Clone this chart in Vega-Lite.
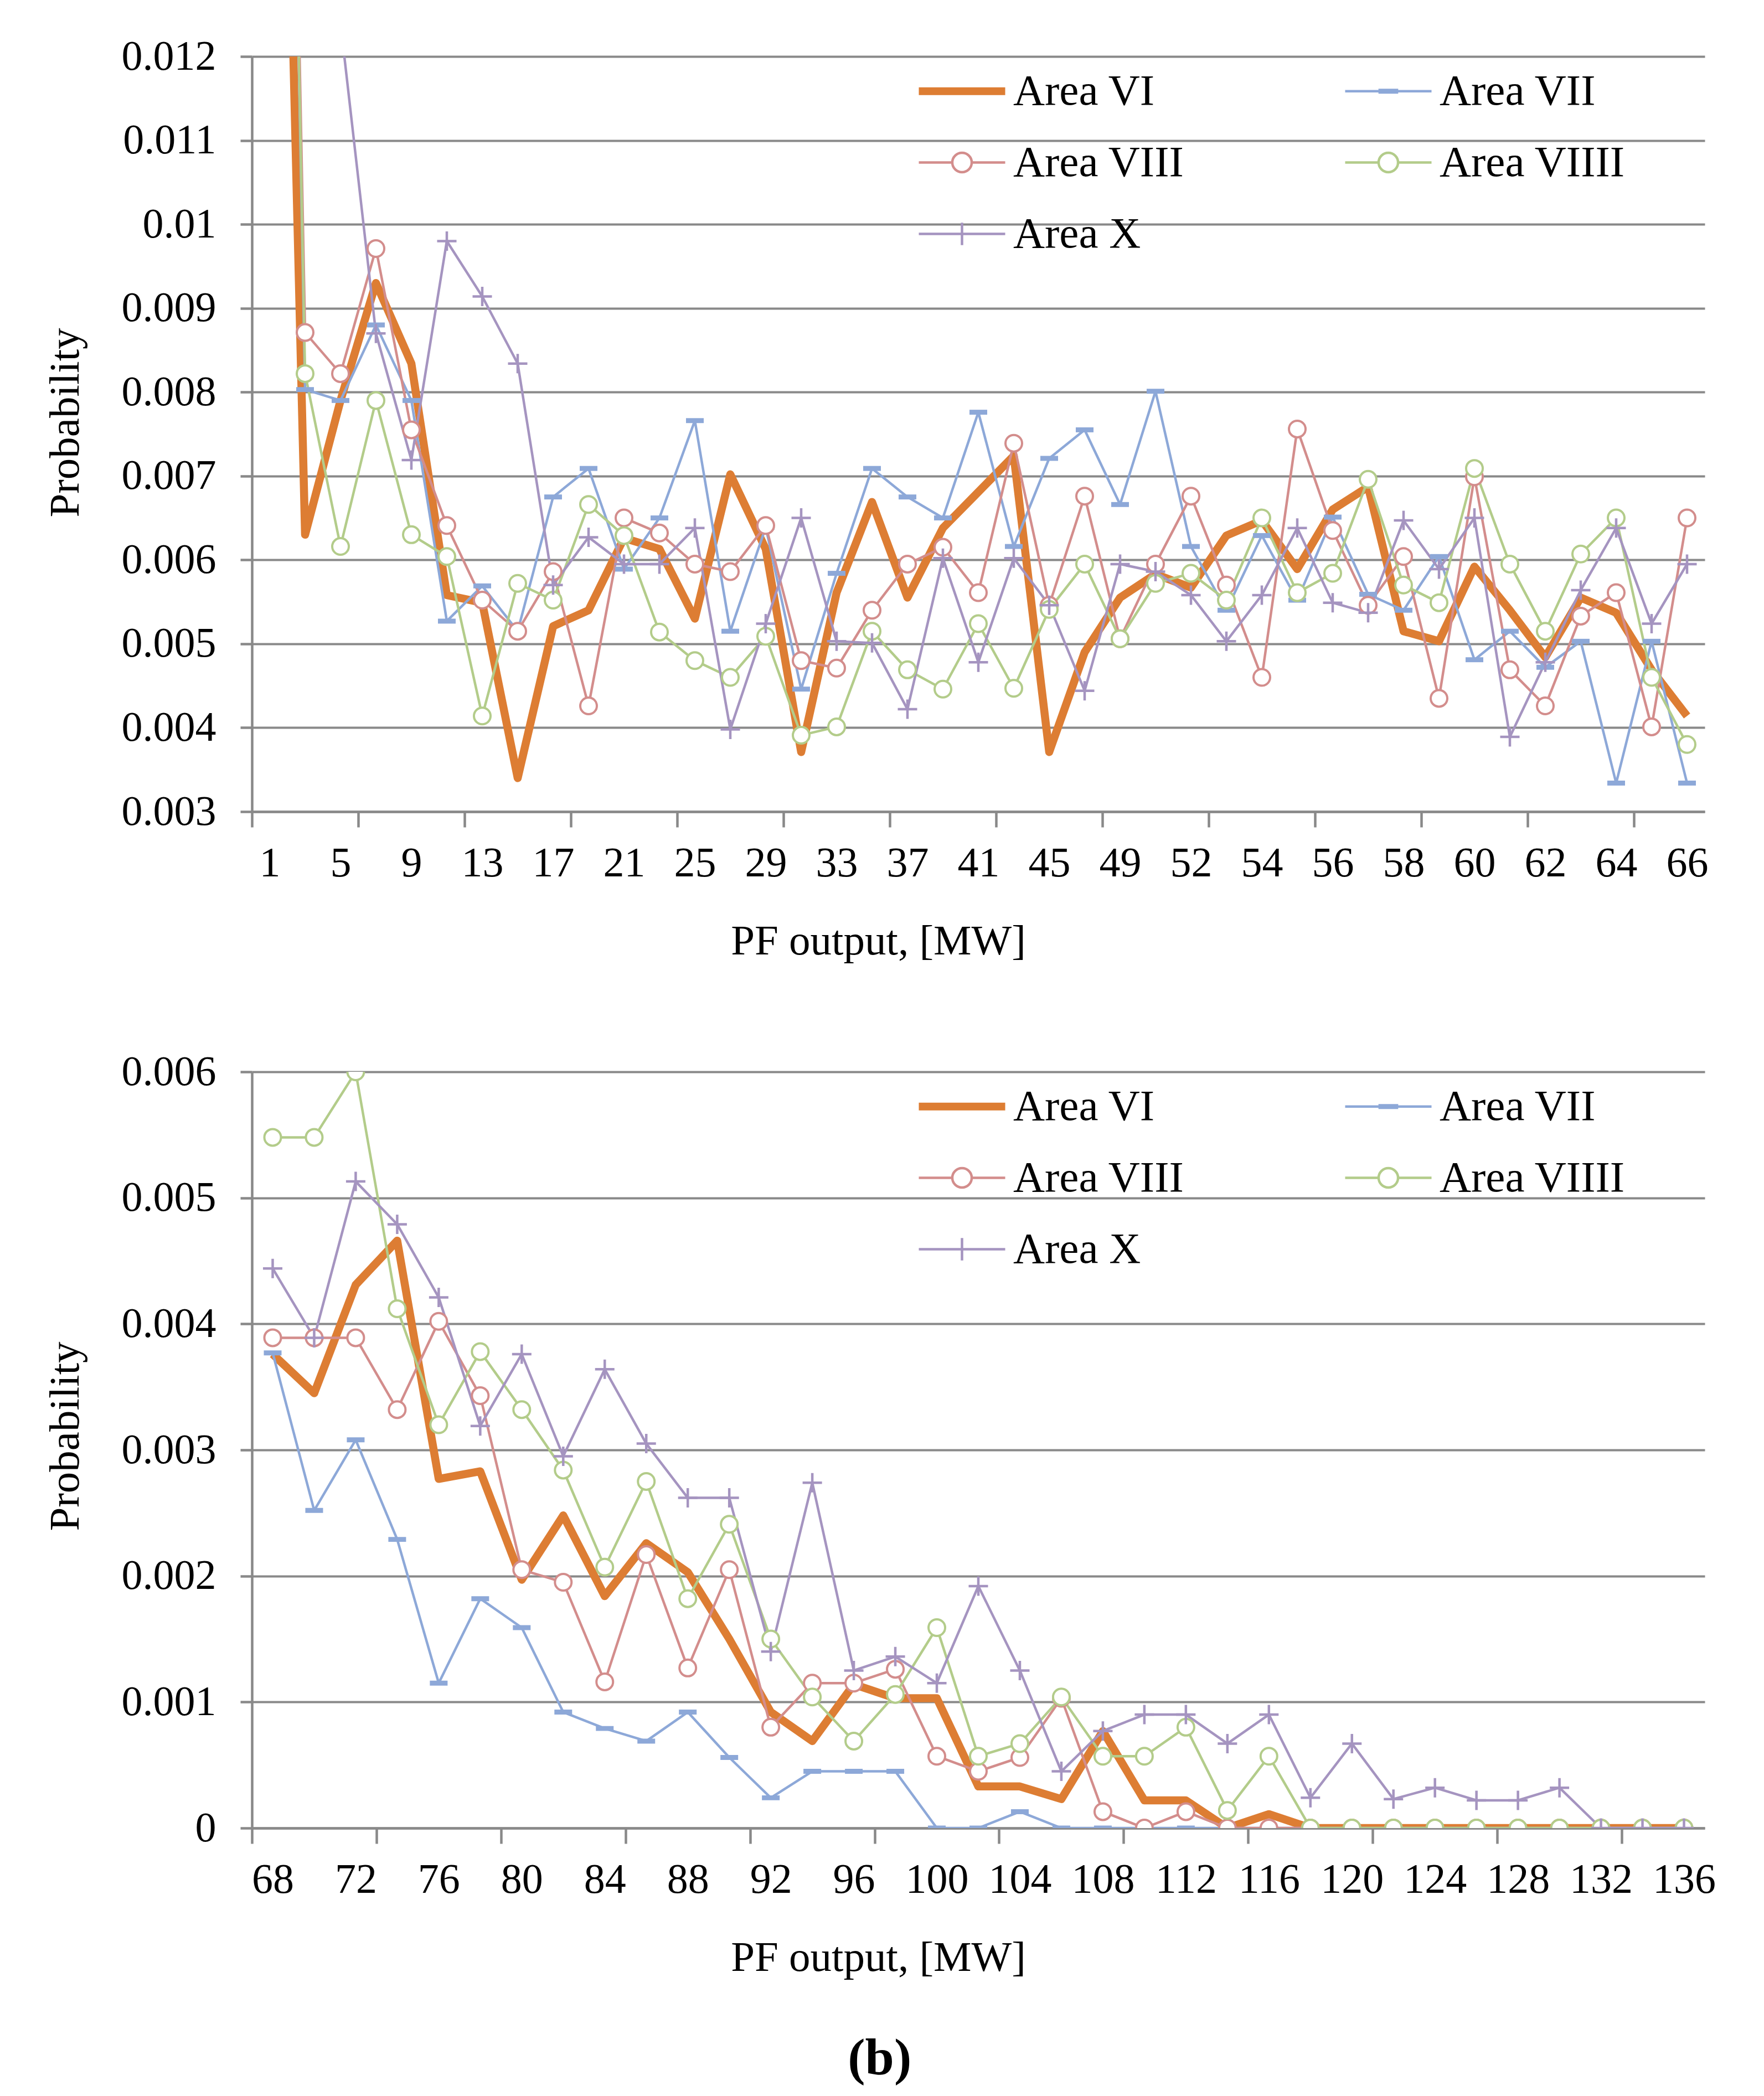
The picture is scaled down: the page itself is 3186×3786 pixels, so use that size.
{
"$schema": "https://vega.github.io/schema/vega-lite/v6.json",
"background": "white",
"padding": {"left": 79, "top": 64, "right": 100, "bottom": 20},
"title": {"text": "(b)", "orient": "bottom", "font": "Liberation Serif", "fontSize": 94, "fontWeight": "bold", "color": "black", "offset": 99, "anchor": "middle"},
"spacing": 160,
"resolve": {"scale": {"color": "independent", "shape": "independent", "x": "independent", "y": "independent"}, "legend": {"color": "independent", "shape": "independent"}},
"config": {
  "view": {"stroke": null},
  "axis": {"domainColor": "#898989", "domainWidth": 4.5, "tickColor": "#898989", "tickWidth": 4.5, "gridColor": "#898989", "gridWidth": 4, "labelFont": "Liberation Serif", "labelFontSize": 76, "labelColor": "black", "titleFont": "Liberation Serif", "titleFontSize": 77, "titleFontWeight": "normal", "titleColor": "black"},
  "legend": {"title": null, "orient": "none", "legendX": 1202, "legendY": 21, "direction": "horizontal", "columns": 2, "columnPadding": 280, "rowPadding": 47, "padding": 0, "labelFont": "Liberation Serif", "labelFontSize": 79, "labelColor": "black", "labelOffset": 90, "labelLimit": 1000, "symbolSize": 6084, "symbolStrokeWidth": 4.5}
},
"datasets": {
"top": [
{"x":"1","s":"Area VI","p":0.0236},{"x":"3","s":"Area VI","p":0.0063},{"x":"5","s":"Area VI","p":0.0079},{"x":"7","s":"Area VI","p":0.0093},{"x":"9","s":"Area VI","p":0.00834},{"x":"11","s":"Area VI","p":0.00558},{"x":"13","s":"Area VI","p":0.00549},{"x":"15","s":"Area VI","p":0.0034},{"x":"17","s":"Area VI","p":0.00521},{"x":"19","s":"Area VI","p":0.0054},{"x":"21","s":"Area VI","p":0.00626},{"x":"23","s":"Area VI","p":0.00613},{"x":"25","s":"Area VI","p":0.0053},{"x":"27","s":"Area VI","p":0.00702},{"x":"29","s":"Area VI","p":0.00613},{"x":"31","s":"Area VI","p":0.00371},{"x":"33","s":"Area VI","p":0.00561},{"x":"35","s":"Area VI","p":0.00669},{"x":"37","s":"Area VI","p":0.00555},{"x":"39","s":"Area VI","p":0.00638},{"x":"41","s":"Area VI","p":0.00681},{"x":"43","s":"Area VI","p":0.00724},{"x":"45","s":"Area VI","p":0.00371},{"x":"47","s":"Area VI","p":0.0049},{"x":"49","s":"Area VI","p":0.00555},{"x":"51","s":"Area VI","p":0.00583},{"x":"52","s":"Area VI","p":0.00567},{"x":"53","s":"Area VI","p":0.00629},{"x":"54","s":"Area VI","p":0.00647},{"x":"55","s":"Area VI","p":0.00589},{"x":"56","s":"Area VI","p":0.0066},{"x":"57","s":"Area VI","p":0.00687},{"x":"58","s":"Area VI","p":0.00515},{"x":"59","s":"Area VI","p":0.00503},{"x":"60","s":"Area VI","p":0.00592},{"x":"61","s":"Area VI","p":0.0054},{"x":"62","s":"Area VI","p":0.00484},{"x":"63","s":"Area VI","p":0.00555},{"x":"64","s":"Area VI","p":0.00537},{"x":"65","s":"Area VI","p":0.00469},{"x":"66","s":"Area VI","p":0.00414},
{"x":"1","s":"Area VII","p":0.03},{"x":"3","s":"Area VII","p":0.00803},{"x":"5","s":"Area VII","p":0.0079},{"x":"7","s":"Area VII","p":0.0088},{"x":"9","s":"Area VII","p":0.0079},{"x":"11","s":"Area VII","p":0.00527},{"x":"13","s":"Area VII","p":0.00569},{"x":"15","s":"Area VII","p":0.00515},{"x":"17","s":"Area VII","p":0.00675},{"x":"19","s":"Area VII","p":0.00709},{"x":"21","s":"Area VII","p":0.00589},{"x":"23","s":"Area VII","p":0.0065},{"x":"25","s":"Area VII","p":0.00766},{"x":"27","s":"Area VII","p":0.00515},{"x":"29","s":"Area VII","p":0.00639},{"x":"31","s":"Area VII","p":0.00446},{"x":"33","s":"Area VII","p":0.00584},{"x":"35","s":"Area VII","p":0.00709},{"x":"37","s":"Area VII","p":0.00675},{"x":"39","s":"Area VII","p":0.0065},{"x":"41","s":"Area VII","p":0.00776},{"x":"43","s":"Area VII","p":0.00616},{"x":"45","s":"Area VII","p":0.00721},{"x":"47","s":"Area VII","p":0.00755},{"x":"49","s":"Area VII","p":0.00666},{"x":"51","s":"Area VII","p":0.00801},{"x":"52","s":"Area VII","p":0.00616},{"x":"53","s":"Area VII","p":0.0054},{"x":"54","s":"Area VII","p":0.00629},{"x":"55","s":"Area VII","p":0.00552},{"x":"56","s":"Area VII","p":0.00651},{"x":"57","s":"Area VII","p":0.00559},{"x":"58","s":"Area VII","p":0.0054},{"x":"59","s":"Area VII","p":0.00604},{"x":"60","s":"Area VII","p":0.00481},{"x":"61","s":"Area VII","p":0.00515},{"x":"62","s":"Area VII","p":0.00472},{"x":"63","s":"Area VII","p":0.00503},{"x":"64","s":"Area VII","p":0.00334},{"x":"65","s":"Area VII","p":0.00503},{"x":"66","s":"Area VII","p":0.00334},
{"x":"1","s":"Area VIII","p":0.03},{"x":"3","s":"Area VIII","p":0.00871},{"x":"5","s":"Area VIII","p":0.00822},{"x":"7","s":"Area VIII","p":0.00971},{"x":"9","s":"Area VIII","p":0.00755},{"x":"11","s":"Area VIII","p":0.00641},{"x":"13","s":"Area VIII","p":0.00552},{"x":"15","s":"Area VIII","p":0.00515},{"x":"17","s":"Area VIII","p":0.00586},{"x":"19","s":"Area VIII","p":0.00426},{"x":"21","s":"Area VIII","p":0.0065},{"x":"23","s":"Area VIII","p":0.00632},{"x":"25","s":"Area VIII","p":0.00595},{"x":"27","s":"Area VIII","p":0.00586},{"x":"29","s":"Area VIII","p":0.00641},{"x":"31","s":"Area VIII","p":0.0048},{"x":"33","s":"Area VIII","p":0.00471},{"x":"35","s":"Area VIII","p":0.0054},{"x":"37","s":"Area VIII","p":0.00595},{"x":"39","s":"Area VIII","p":0.00615},{"x":"41","s":"Area VIII","p":0.00561},{"x":"43","s":"Area VIII","p":0.00739},{"x":"45","s":"Area VIII","p":0.00546},{"x":"47","s":"Area VIII","p":0.00676},{"x":"49","s":"Area VIII","p":0.00506},{"x":"51","s":"Area VIII","p":0.00595},{"x":"52","s":"Area VIII","p":0.00676},{"x":"53","s":"Area VIII","p":0.0057},{"x":"54","s":"Area VIII","p":0.0046},{"x":"55","s":"Area VIII","p":0.00756},{"x":"56","s":"Area VIII","p":0.00635},{"x":"57","s":"Area VIII","p":0.00546},{"x":"58","s":"Area VIII","p":0.00604},{"x":"59","s":"Area VIII","p":0.00435},{"x":"60","s":"Area VIII","p":0.00699},{"x":"61","s":"Area VIII","p":0.00469},{"x":"62","s":"Area VIII","p":0.00426},{"x":"63","s":"Area VIII","p":0.00533},{"x":"64","s":"Area VIII","p":0.00561},{"x":"65","s":"Area VIII","p":0.00401},{"x":"66","s":"Area VIII","p":0.0065},
{"x":"1","s":"Area VIIII","p":0.03},{"x":"3","s":"Area VIIII","p":0.00822},{"x":"5","s":"Area VIIII","p":0.00616},{"x":"7","s":"Area VIIII","p":0.0079},{"x":"9","s":"Area VIIII","p":0.0063},{"x":"11","s":"Area VIIII","p":0.00604},{"x":"13","s":"Area VIIII","p":0.00414},{"x":"15","s":"Area VIIII","p":0.00572},{"x":"17","s":"Area VIIII","p":0.00552},{"x":"19","s":"Area VIIII","p":0.00666},{"x":"21","s":"Area VIIII","p":0.00629},{"x":"23","s":"Area VIIII","p":0.00514},{"x":"25","s":"Area VIIII","p":0.0048},{"x":"27","s":"Area VIIII","p":0.0046},{"x":"29","s":"Area VIIII","p":0.00509},{"x":"31","s":"Area VIIII","p":0.00391},{"x":"33","s":"Area VIIII","p":0.00401},{"x":"35","s":"Area VIIII","p":0.00515},{"x":"37","s":"Area VIIII","p":0.00469},{"x":"39","s":"Area VIIII","p":0.00446},{"x":"41","s":"Area VIIII","p":0.00524},{"x":"43","s":"Area VIIII","p":0.00447},{"x":"45","s":"Area VIIII","p":0.00541},{"x":"47","s":"Area VIIII","p":0.00595},{"x":"49","s":"Area VIIII","p":0.00506},{"x":"51","s":"Area VIIII","p":0.00572},{"x":"52","s":"Area VIIII","p":0.00584},{"x":"53","s":"Area VIIII","p":0.00552},{"x":"54","s":"Area VIIII","p":0.0065},{"x":"55","s":"Area VIIII","p":0.00561},{"x":"56","s":"Area VIIII","p":0.00584},{"x":"57","s":"Area VIIII","p":0.00696},{"x":"58","s":"Area VIIII","p":0.0057},{"x":"59","s":"Area VIIII","p":0.00549},{"x":"60","s":"Area VIIII","p":0.00709},{"x":"61","s":"Area VIIII","p":0.00595},{"x":"62","s":"Area VIIII","p":0.00515},{"x":"63","s":"Area VIIII","p":0.00607},{"x":"64","s":"Area VIIII","p":0.0065},{"x":"65","s":"Area VIIII","p":0.0046},{"x":"66","s":"Area VIIII","p":0.0038},
{"x":"1","s":"Area X","p":0.03},{"x":"3","s":"Area X","p":0.02},{"x":"5","s":"Area X","p":0.0124},{"x":"7","s":"Area X","p":0.0087},{"x":"9","s":"Area X","p":0.00719},{"x":"11","s":"Area X","p":0.0098},{"x":"13","s":"Area X","p":0.00914},{"x":"15","s":"Area X","p":0.00834},{"x":"17","s":"Area X","p":0.0057},{"x":"19","s":"Area X","p":0.00627},{"x":"21","s":"Area X","p":0.00595},{"x":"23","s":"Area X","p":0.00595},{"x":"25","s":"Area X","p":0.00638},{"x":"27","s":"Area X","p":0.00398},{"x":"29","s":"Area X","p":0.00524},{"x":"31","s":"Area X","p":0.0065},{"x":"33","s":"Area X","p":0.00503},{"x":"35","s":"Area X","p":0.00501},{"x":"37","s":"Area X","p":0.00422},{"x":"39","s":"Area X","p":0.00602},{"x":"41","s":"Area X","p":0.00478},{"x":"43","s":"Area X","p":0.00602},{"x":"45","s":"Area X","p":0.00546},{"x":"47","s":"Area X","p":0.00444},{"x":"49","s":"Area X","p":0.00595},{"x":"51","s":"Area X","p":0.00586},{"x":"52","s":"Area X","p":0.00558},{"x":"53","s":"Area X","p":0.00503},{"x":"54","s":"Area X","p":0.00558},{"x":"55","s":"Area X","p":0.00638},{"x":"56","s":"Area X","p":0.00549},{"x":"57","s":"Area X","p":0.00537},{"x":"58","s":"Area X","p":0.00647},{"x":"59","s":"Area X","p":0.00589},{"x":"60","s":"Area X","p":0.0065},{"x":"61","s":"Area X","p":0.00389},{"x":"62","s":"Area X","p":0.00478},{"x":"63","s":"Area X","p":0.00564},{"x":"64","s":"Area X","p":0.00638},{"x":"65","s":"Area X","p":0.00524},{"x":"66","s":"Area X","p":0.00595}
],
"bottom": [
{"x":"68","s":"Area VI","p":0.00376},{"x":"70","s":"Area VI","p":0.00345},{"x":"72","s":"Area VI","p":0.00431},{"x":"74","s":"Area VI","p":0.00466},{"x":"76","s":"Area VI","p":0.00277},{"x":"78","s":"Area VI","p":0.00283},{"x":"80","s":"Area VI","p":0.00197},{"x":"82","s":"Area VI","p":0.00248},{"x":"84","s":"Area VI","p":0.00184},{"x":"86","s":"Area VI","p":0.00226},{"x":"88","s":"Area VI","p":0.00203},{"x":"90","s":"Area VI","p":0.0015},{"x":"92","s":"Area VI","p":0.00092},{"x":"94","s":"Area VI","p":0.00069},{"x":"96","s":"Area VI","p":0.00114},{"x":"98","s":"Area VI","p":0.00103},{"x":"100","s":"Area VI","p":0.00103},{"x":"102","s":"Area VI","p":0.00033},{"x":"104","s":"Area VI","p":0.00033},{"x":"106","s":"Area VI","p":0.00023},{"x":"108","s":"Area VI","p":0.00077},{"x":"110","s":"Area VI","p":0.00022},{"x":"112","s":"Area VI","p":0.00022},{"x":"114","s":"Area VI","p":0},{"x":"116","s":"Area VI","p":0.00011},{"x":"118","s":"Area VI","p":0},{"x":"120","s":"Area VI","p":0},{"x":"122","s":"Area VI","p":0},{"x":"124","s":"Area VI","p":0},{"x":"126","s":"Area VI","p":0},{"x":"128","s":"Area VI","p":0},{"x":"130","s":"Area VI","p":0},{"x":"132","s":"Area VI","p":0},{"x":"134","s":"Area VI","p":0},{"x":"136","s":"Area VI","p":0},
{"x":"68","s":"Area VII","p":0.00377},{"x":"70","s":"Area VII","p":0.00252},{"x":"72","s":"Area VII","p":0.00308},{"x":"74","s":"Area VII","p":0.00229},{"x":"76","s":"Area VII","p":0.00115},{"x":"78","s":"Area VII","p":0.00182},{"x":"80","s":"Area VII","p":0.00159},{"x":"82","s":"Area VII","p":0.00092},{"x":"84","s":"Area VII","p":0.00079},{"x":"86","s":"Area VII","p":0.00069},{"x":"88","s":"Area VII","p":0.00092},{"x":"90","s":"Area VII","p":0.00056},{"x":"92","s":"Area VII","p":0.00024},{"x":"94","s":"Area VII","p":0.00045},{"x":"96","s":"Area VII","p":0.00045},{"x":"98","s":"Area VII","p":0.00045},{"x":"100","s":"Area VII","p":0},{"x":"102","s":"Area VII","p":0},{"x":"104","s":"Area VII","p":0.00013},{"x":"106","s":"Area VII","p":0},{"x":"108","s":"Area VII","p":0},{"x":"110","s":"Area VII","p":0},{"x":"112","s":"Area VII","p":0},{"x":"114","s":"Area VII","p":0},{"x":"116","s":"Area VII","p":0},{"x":"118","s":"Area VII","p":0},{"x":"120","s":"Area VII","p":0},{"x":"122","s":"Area VII","p":0},{"x":"124","s":"Area VII","p":0},{"x":"126","s":"Area VII","p":0},{"x":"128","s":"Area VII","p":0},{"x":"130","s":"Area VII","p":0},{"x":"132","s":"Area VII","p":0},{"x":"134","s":"Area VII","p":0},{"x":"136","s":"Area VII","p":0},
{"x":"68","s":"Area VIII","p":0.00389},{"x":"70","s":"Area VIII","p":0.00389},{"x":"72","s":"Area VIII","p":0.00389},{"x":"74","s":"Area VIII","p":0.00332},{"x":"76","s":"Area VIII","p":0.00402},{"x":"78","s":"Area VIII","p":0.00343},{"x":"80","s":"Area VIII","p":0.00205},{"x":"82","s":"Area VIII","p":0.00195},{"x":"84","s":"Area VIII","p":0.00116},{"x":"86","s":"Area VIII","p":0.00217},{"x":"88","s":"Area VIII","p":0.00127},{"x":"90","s":"Area VIII","p":0.00205},{"x":"92","s":"Area VIII","p":0.0008},{"x":"94","s":"Area VIII","p":0.00115},{"x":"96","s":"Area VIII","p":0.00115},{"x":"98","s":"Area VIII","p":0.00126},{"x":"100","s":"Area VIII","p":0.00057},{"x":"102","s":"Area VIII","p":0.00045},{"x":"104","s":"Area VIII","p":0.00056},{"x":"106","s":"Area VIII","p":0.00103},{"x":"108","s":"Area VIII","p":0.00013},{"x":"110","s":"Area VIII","p":0},{"x":"112","s":"Area VIII","p":0.00013},{"x":"114","s":"Area VIII","p":0},{"x":"116","s":"Area VIII","p":0},{"x":"118","s":"Area VIII","p":0},{"x":"120","s":"Area VIII","p":0},{"x":"122","s":"Area VIII","p":0},{"x":"124","s":"Area VIII","p":0},{"x":"126","s":"Area VIII","p":0},{"x":"128","s":"Area VIII","p":0},{"x":"130","s":"Area VIII","p":0},{"x":"132","s":"Area VIII","p":0},{"x":"134","s":"Area VIII","p":0},{"x":"136","s":"Area VIII","p":0},
{"x":"68","s":"Area VIIII","p":0.00548},{"x":"70","s":"Area VIIII","p":0.00548},{"x":"72","s":"Area VIIII","p":0.006},{"x":"74","s":"Area VIIII","p":0.00412},{"x":"76","s":"Area VIIII","p":0.0032},{"x":"78","s":"Area VIIII","p":0.00378},{"x":"80","s":"Area VIIII","p":0.00332},{"x":"82","s":"Area VIIII","p":0.00284},{"x":"84","s":"Area VIIII","p":0.00207},{"x":"86","s":"Area VIIII","p":0.00275},{"x":"88","s":"Area VIIII","p":0.00182},{"x":"90","s":"Area VIIII","p":0.00241},{"x":"92","s":"Area VIIII","p":0.0015},{"x":"94","s":"Area VIIII","p":0.00104},{"x":"96","s":"Area VIIII","p":0.00069},{"x":"98","s":"Area VIIII","p":0.00106},{"x":"100","s":"Area VIIII","p":0.00159},{"x":"102","s":"Area VIIII","p":0.00057},{"x":"104","s":"Area VIIII","p":0.00067},{"x":"106","s":"Area VIIII","p":0.00104},{"x":"108","s":"Area VIIII","p":0.00057},{"x":"110","s":"Area VIIII","p":0.00057},{"x":"112","s":"Area VIIII","p":0.0008},{"x":"114","s":"Area VIIII","p":0.00014},{"x":"116","s":"Area VIIII","p":0.00057},{"x":"118","s":"Area VIIII","p":0},{"x":"120","s":"Area VIIII","p":0},{"x":"122","s":"Area VIIII","p":0},{"x":"124","s":"Area VIIII","p":0},{"x":"126","s":"Area VIIII","p":0},{"x":"128","s":"Area VIIII","p":0},{"x":"130","s":"Area VIIII","p":0},{"x":"132","s":"Area VIIII","p":0},{"x":"134","s":"Area VIIII","p":0},{"x":"136","s":"Area VIIII","p":0},
{"x":"68","s":"Area X","p":0.00444},{"x":"70","s":"Area X","p":0.00389},{"x":"72","s":"Area X","p":0.00513},{"x":"74","s":"Area X","p":0.00479},{"x":"76","s":"Area X","p":0.00421},{"x":"78","s":"Area X","p":0.00319},{"x":"80","s":"Area X","p":0.00376},{"x":"82","s":"Area X","p":0.00295},{"x":"84","s":"Area X","p":0.00364},{"x":"86","s":"Area X","p":0.00305},{"x":"88","s":"Area X","p":0.00262},{"x":"90","s":"Area X","p":0.00262},{"x":"92","s":"Area X","p":0.0014},{"x":"94","s":"Area X","p":0.00274},{"x":"96","s":"Area X","p":0.00125},{"x":"98","s":"Area X","p":0.00136},{"x":"100","s":"Area X","p":0.00115},{"x":"102","s":"Area X","p":0.00192},{"x":"104","s":"Area X","p":0.00125},{"x":"106","s":"Area X","p":0.00045},{"x":"108","s":"Area X","p":0.00077},{"x":"110","s":"Area X","p":0.0009},{"x":"112","s":"Area X","p":0.0009},{"x":"114","s":"Area X","p":0.00067},{"x":"116","s":"Area X","p":0.0009},{"x":"118","s":"Area X","p":0.00024},{"x":"120","s":"Area X","p":0.00067},{"x":"122","s":"Area X","p":0.00023},{"x":"124","s":"Area X","p":0.00032},{"x":"126","s":"Area X","p":0.00022},{"x":"128","s":"Area X","p":0.00022},{"x":"130","s":"Area X","p":0.00032},{"x":"132","s":"Area X","p":0},{"x":"134","s":"Area X","p":0},{"x":"136","s":"Area X","p":0}
]
},
"vconcat": [
{
  "width": 2624, "height": 1364,
  "data": {"name": "top"},
  "resolve": {"legend": {"color": "independent", "shape": "independent"}},
  "encoding": {
    "x": {"field": "x", "type": "ordinal",
      "sort": ["1","3","5","7","9","11","13","15","17","19","21","23","25","27","29","31","33","35","37","39","41","43","45","47","49","51","52","53","54","55","56","57","58","59","60","61","62","63","64","65","66"],
      "scale": {"type": "point", "padding": 0.5},
      "axis": {"title": "PF output, [MW]", "titleX": 1131, "titleY": 257, "titleAlign": "center", "titleBaseline": "alphabetic", "titleAnchor": null,
        "labelAngle": 0, "labelOverlap": false, "labelFlush": false, "labelBaseline": "top", "labelAlign": "center",
        "labelExpr": "indexof(['1','5','9','13','17','21','25','29','33','37','41','45','49','52','54','56','58','60','62','64','66'], datum.value) >= 0 ? datum.value : ''",
        "tickOffset": -32, "labelOffset": 32, "tickSize": 28, "labelPadding": 28, "grid": false,
        "tickOpacity": {"condition": {"test": "indexof(['1','7','13','19','25','31','37','43','49','53','56','59','62','65'], datum.value) >= 0", "value": 1}, "value": 0}}},
    "y": {"field": "p", "type": "quantitative",
      "scale": {"domain": [0.003, 0.012], "nice": false, "zero": false},
      "axis": {"values": [0.003,0.004,0.005,0.006,0.007,0.008,0.009,0.01,0.011,0.012], "format": ".3~f", "title": "Probability", "titleX": -314, "titleY": 661, "titleAngle": 270, "titleAlign": "center", "titleBaseline": "alphabetic", "titleAnchor": null, "tickSize": 21, "labelPadding": 44, "grid": true}}
  },
  "layer": [
    {"transform": [{"filter": "datum.s == 'Area VI'"}], "mark": {"type": "line", "clip": true, "strokeWidth": 14.5, "strokeJoin": "round"},
     "encoding": {"color": {"field": "s", "type": "nominal", "scale": {"domain": ["Area VI","Area VII","Area VIII","Area VIIII","Area X"], "range": ["#DD7D33","#8DA8D8","#D38D8C","#B3CC8A","#A594C0"]}, "legend": null}}},
    {"transform": [{"filter": "datum.s != 'Area VI'"}], "mark": {"type": "line", "clip": true, "strokeWidth": 4.5, "strokeJoin": "round"},
     "encoding": {"color": {"field": "s", "type": "nominal", "legend": null}}},
    {"transform": [{"filter": "datum.s == 'Area VII'"}], "mark": {"type": "point", "clip": true, "filled": true, "opacity": 1, "size": 1024, "shape": "M-1,-0.28L1,-0.28L1,0.28L-1,0.28Z"},
     "encoding": {"color": {"field": "s", "type": "nominal", "legend": null}}},
    {"transform": [{"filter": "datum.s == 'Area VIII' || datum.s == 'Area VIIII'"}], "mark": {"type": "point", "clip": true, "filled": false, "fill": "white", "opacity": 1, "size": 900, "strokeWidth": 4, "shape": "circle"},
     "encoding": {"color": {"field": "s", "type": "nominal", "legend": null}}},
    {"transform": [{"filter": "datum.s == 'Area X'"}], "mark": {"type": "point", "clip": true, "filled": false, "opacity": 1, "size": 1225, "strokeWidth": 4.5, "shape": "M-1,0L1,0M0,-1L0,1"},
     "encoding": {"color": {"field": "s", "type": "nominal", "legend": null}}},
    {"transform": [{"filter": "datum.s == 'none'"}], "mark": {"type": "point", "filled": false, "opacity": 1, "size": 6084, "strokeWidth": 4.5},
     "encoding": {
       "color": {"field": "s", "type": "nominal", "legend": {}},
       "shape": {"field": "s", "type": "nominal", "scale": {"domain": ["Area VI","Area VII","Area VIII","Area VIIII","Area X"], "range": ["M-1,-0.12L3,-0.12M-1,-0.06L3,-0.06M-1,0L3,0M-1,0.06L3,0.06M-1,0.12L3,0.12", "M-1,0L3,0M0.6,-0.06L1.4,-0.06L1.4,0.06L0.6,0.06Z", "M-1,0L0.55,0M1.45,0L3,0M0.55,0A0.45,0.45,0,1,1,1.45,0A0.45,0.45,0,1,1,0.55,0Z", "M-1,0L0.55,0M1.45,0L3,0M0.55,0A0.45,0.45,0,1,1,1.45,0A0.45,0.45,0,1,1,0.55,0Z", "M-1,0L3,0M1,-0.52L1,0.52"]}, "legend": {}}
     }}
  ]
},
{
  "width": 2624, "height": 1366,
  "data": {"name": "bottom"},
  "resolve": {"legend": {"color": "independent", "shape": "independent"}},
  "encoding": {
    "x": {"field": "x", "type": "ordinal",
      "sort": ["68","70","72","74","76","78","80","82","84","86","88","90","92","94","96","98","100","102","104","106","108","110","112","114","116","118","120","122","124","126","128","130","132","134","136"],
      "scale": {"type": "point", "padding": 0.5},
      "axis": {"title": "PF output, [MW]", "titleX": 1131, "titleY": 257, "titleAlign": "center", "titleBaseline": "alphabetic", "titleAnchor": null,
        "labelAngle": 0, "labelOverlap": false, "labelFlush": false, "labelBaseline": "top", "labelAlign": "center",
        "labelExpr": "indexof(['68','72','76','80','84','88','92','96','100','104','108','112','116','120','124','128','132','136'], datum.value) >= 0 ? datum.value : ''",
        "tickOffset": -37.5, "labelOffset": 37.5, "tickSize": 28, "labelPadding": 28, "grid": false,
        "tickOpacity": {"condition": {"test": "indexof(['68','74','80','86','92','98','104','110','116','122','128','134'], datum.value) >= 0", "value": 1}, "value": 0}}},
    "y": {"field": "p", "type": "quantitative",
      "scale": {"domain": [0, 0.006], "nice": false, "zero": false},
      "axis": {"values": [0,0.001,0.002,0.003,0.004,0.005,0.006], "format": ".3~f", "title": "Probability", "titleX": -314, "titleY": 658, "titleAngle": 270, "titleAlign": "center", "titleBaseline": "alphabetic", "titleAnchor": null, "tickSize": 21, "labelPadding": 44, "grid": true}}
  },
  "layer": [
    {"transform": [{"filter": "datum.s == 'Area VI'"}], "mark": {"type": "line", "clip": true, "strokeWidth": 14.5, "strokeJoin": "round"},
     "encoding": {"color": {"field": "s", "type": "nominal", "scale": {"domain": ["Area VI","Area VII","Area VIII","Area VIIII","Area X"], "range": ["#DD7D33","#8DA8D8","#D38D8C","#B3CC8A","#A594C0"]}, "legend": null}}},
    {"transform": [{"filter": "datum.s != 'Area VI'"}], "mark": {"type": "line", "clip": true, "strokeWidth": 4.5, "strokeJoin": "round"},
     "encoding": {"color": {"field": "s", "type": "nominal", "legend": null}}},
    {"transform": [{"filter": "datum.s == 'Area VII'"}], "mark": {"type": "point", "clip": true, "filled": true, "opacity": 1, "size": 1024, "shape": "M-1,-0.28L1,-0.28L1,0.28L-1,0.28Z"},
     "encoding": {"color": {"field": "s", "type": "nominal", "legend": null}}},
    {"transform": [{"filter": "datum.s == 'Area VIII' || datum.s == 'Area VIIII'"}], "mark": {"type": "point", "clip": true, "filled": false, "fill": "white", "opacity": 1, "size": 900, "strokeWidth": 4, "shape": "circle"},
     "encoding": {"color": {"field": "s", "type": "nominal", "legend": null}}},
    {"transform": [{"filter": "datum.s == 'Area X'"}], "mark": {"type": "point", "clip": true, "filled": false, "opacity": 1, "size": 1225, "strokeWidth": 4.5, "shape": "M-1,0L1,0M0,-1L0,1"},
     "encoding": {"color": {"field": "s", "type": "nominal", "legend": null}}},
    {"transform": [{"filter": "datum.s == 'none'"}], "mark": {"type": "point", "filled": false, "opacity": 1, "size": 6084, "strokeWidth": 4.5},
     "encoding": {
       "color": {"field": "s", "type": "nominal", "legend": {}},
       "shape": {"field": "s", "type": "nominal", "scale": {"domain": ["Area VI","Area VII","Area VIII","Area VIIII","Area X"], "range": ["M-1,-0.12L3,-0.12M-1,-0.06L3,-0.06M-1,0L3,0M-1,0.06L3,0.06M-1,0.12L3,0.12", "M-1,0L3,0M0.6,-0.06L1.4,-0.06L1.4,0.06L0.6,0.06Z", "M-1,0L0.55,0M1.45,0L3,0M0.55,0A0.45,0.45,0,1,1,1.45,0A0.45,0.45,0,1,1,0.55,0Z", "M-1,0L0.55,0M1.45,0L3,0M0.55,0A0.45,0.45,0,1,1,1.45,0A0.45,0.45,0,1,1,0.55,0Z", "M-1,0L3,0M1,-0.52L1,0.52"]}, "legend": {}}
     }}
  ]
}
]
}
